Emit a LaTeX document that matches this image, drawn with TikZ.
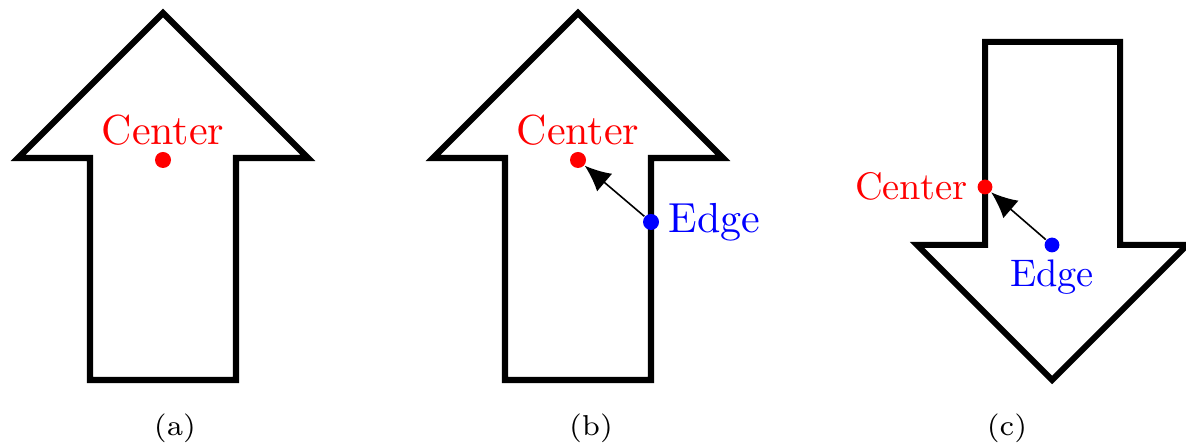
\documentclass[tikz,border=0pt]{standalone}
\usetikzlibrary{arrows.meta}
\begin{document}
\begin{tikzpicture}[x=0.25pt,y=-0.25pt,
  outline/.style={line width=1.55pt,line join=miter},
  reddot/.style={circle,fill=red,inner sep=0pt,minimum size=4pt},
  bluedot/.style={circle,fill=blue,inner sep=0pt,minimum size=4pt},
  conn/.style={line width=0.4pt,-{Latex[length=6.5pt,width=5.8pt]}},
  lbl/.style={inner sep=0pt,font=\fontsize{10.5}{12}\selectfont},
  lblc/.style={inner sep=0pt,font=\fontsize{9.6}{11}\selectfont},
  captxt/.style={inner sep=0pt,font=\fontsize{7.2}{8}\selectfont}]
\useasboundingbox (0,0) rectangle (1186,446);
% (a)
\draw[outline] (163,13) -- (308,158) -- (236,158) -- (236,380) -- (90,380) -- (90,158) -- (18,158) -- cycle;
\node[reddot] (ca) at (163,160) {};
\node[lbl,text=red,anchor=base] (lca) at (163,145) {Center};
\node[captxt,anchor=base] (capa) at (175,436) {(a)};
% (b)
\draw[outline] (578,13) -- (723,158) -- (651,158) -- (651,380) -- (505,380) -- (505,158) -- (433,158) -- cycle;
\node[reddot] (cb) at (578,160) {};
\node[bluedot] (eb) at (651,222) {};
\node[lbl,text=red,anchor=base] (lcb) at (578,145) {Center};
\node[lbl,text=blue,anchor=base west] (leb) at (668,233) {Edge};
\draw[conn] (eb) -- (cb);
\node[captxt,anchor=base] (capb) at (591,436) {(b)};
% (c)
\draw[outline,line width=1.5pt] (985,42) -- (1120,42) -- (1120,245) -- (1187,245) -- (1052,380) -- (917,245) -- (985,245) -- cycle;
\node[reddot,minimum size=3.7pt] (cc) at (985,187) {};
\node[bluedot,minimum size=3.7pt] (ec) at (1052,245) {};
\node[lblc,text=red,anchor=base east] (lcc) at (968,200) {Center};
\node[lblc,text=blue,anchor=base] (lec) at (1052,287) {Edge};
\draw[conn] (ec) -- (cc);
\node[captxt,anchor=base] (capc) at (1007,436) {(c)};
\end{tikzpicture}
\end{document}
